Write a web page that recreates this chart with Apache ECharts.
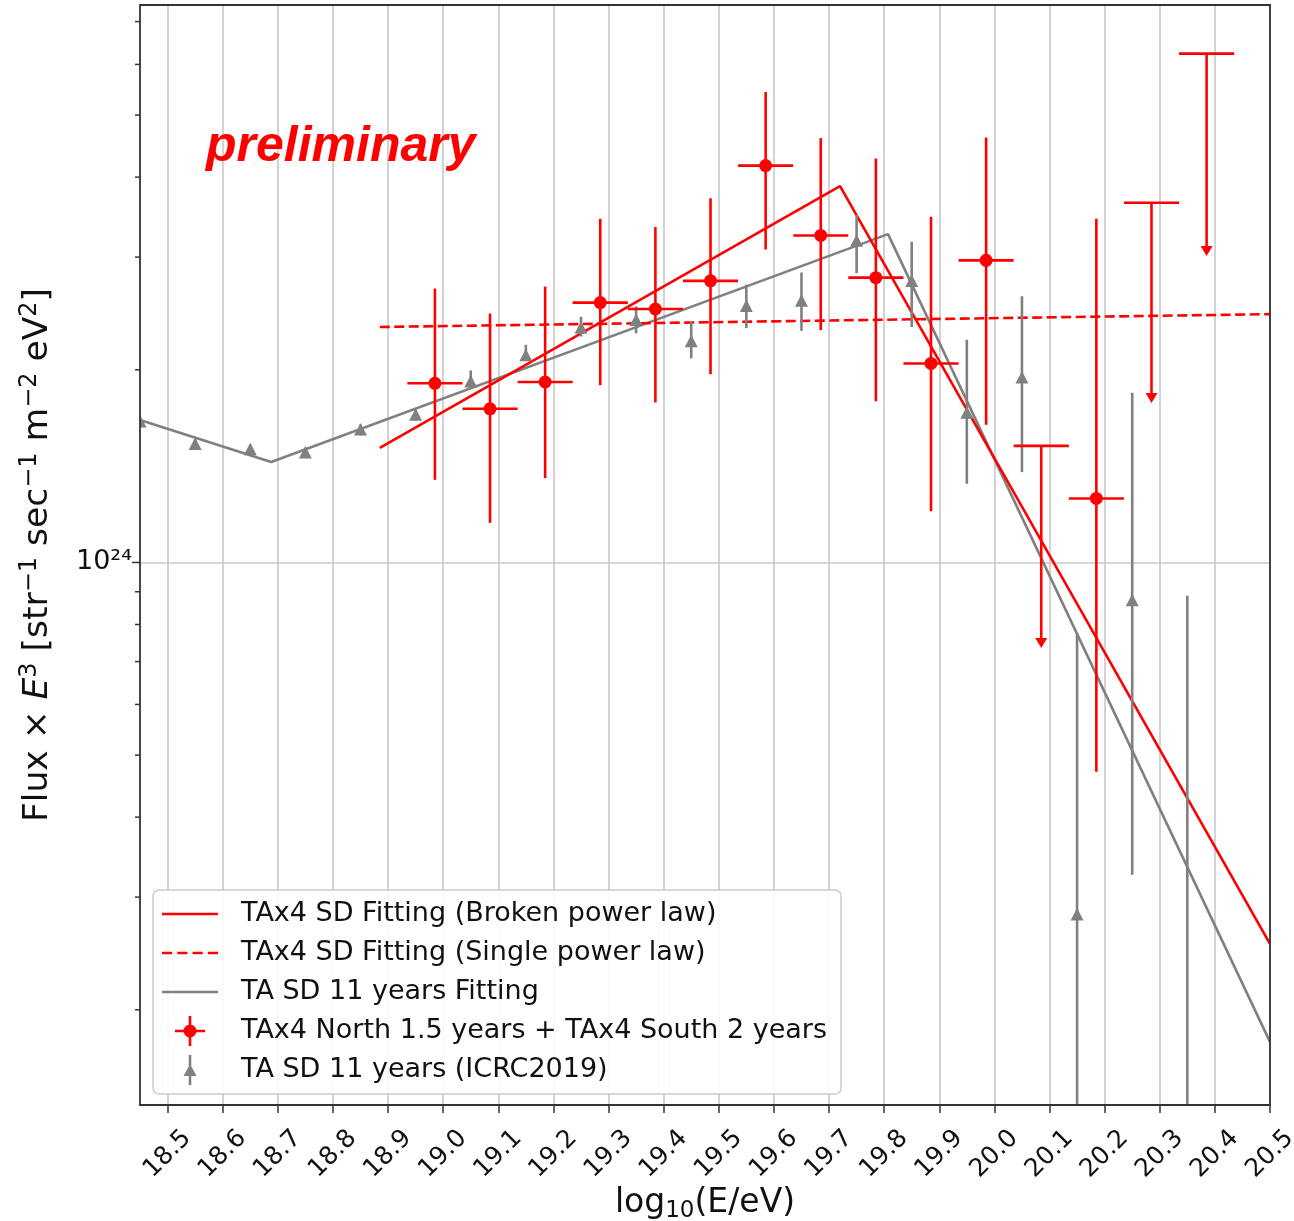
<!DOCTYPE html>
<html>
<head>
<meta charset="utf-8">
<script src="https://cdn.jsdelivr.net/npm/echarts@6/dist/echarts.min.js"></script>
<style>
  html, body { margin: 0; padding: 0; background: #ffffff; }
  #chart { width: 1294px; height: 1221px; }
</style>
</head>
<body>
<div id="chart"></div>
<script>
// ---- axes -----------------------------------------------------------------
const X_MIN = 18.45, X_MAX = 20.5;          // log10(E/eV)
const Y_MIN = 1.42e23, Y_MAX = 7.43e24;     // Flux x E^3
const xTickValues = [18.5, 18.6, 18.7, 18.8, 18.9, 19.0, 19.1, 19.2, 19.3, 19.4, 19.5,
                     19.6, 19.7, 19.8, 19.9, 20.0, 20.1, 20.2, 20.3, 20.4, 20.5];
const yMajorTicks = [1e24];
const yMajorLabels = ['10\u00b2\u2074'];
const yMinorTicks = [2e23, 3e23, 4e23, 5e23, 6e23, 7e23, 8e23, 9e23,
                     2e24, 3e24, 4e24, 5e24, 6e24, 7e24];

// ---- TAx4 SD (North 1.5 yr + South 2 yr) ----------------------------------
const tax4X  = [18.985, 19.085, 19.185, 19.285, 19.385, 19.485, 19.585, 19.685, 19.785, 19.885, 19.985, 20.185];
const tax4Y  = [1.905e24, 1.738e24, 1.914e24, 2.547e24, 2.489e24, 2.754e24, 4.169e24, 3.243e24, 2.786e24, 2.046e24, 2.965e24, 1.259e24];
const tax4Lo = [1.346e24, 1.153e24, 1.355e24, 1.892e24, 1.778e24, 1.968e24, 3.083e24, 2.307e24, 1.786e24, 1.202e24, 1.641e24, 4.71e23];
const tax4Hi = [2.679e24, 2.449e24, 2.698e24, 3.443e24, 3.342e24, 3.707e24, 5.433e24, 4.603e24, 4.276e24, 3.467e24, 4.613e24, 3.443e24];
const tax4XErr = 0.05;
// upper limits: limit value and end of the downward arrow
const tax4LimX     = [20.085, 20.285, 20.385];
const tax4LimY     = [1.521e24, 3.648e24, 6.237e24];
const tax4LimArrow = [7.35e23, 1.774e24, 3.013e24];

// ---- TA SD 11 years (ICRC2019) ----------------------------------------------
const tasdX  = [18.45, 18.55, 18.65, 18.75, 18.85, 18.95, 19.05, 19.15, 19.25, 19.35,
                19.45, 19.55, 19.65, 19.75, 19.85, 19.95, 20.05, 20.15, 20.25, 20.35];
const tasdY  = [1.658e24, 1.528e24, 1.500e24, 1.483e24, 1.611e24, 1.698e24, 1.914e24, 2.104e24, 2.323e24, 2.388e24,
                2.213e24, 2.512e24, 2.559e24, 3.177e24, 2.748e24, 1.710e24, 1.941e24, 2.812e23, 8.71e23, 1.2e23];
const tasdLo = [1.630e24, 1.500e24, 1.472e24, 1.455e24, 1.580e24, 1.665e24, 1.870e24, 2.070e24, 2.254e24, 2.280e24,
                2.084e24, 2.323e24, 2.301e24, 2.831e24, 2.333e24, 1.327e24, 1.384e24, 1e22, 3.25e23, 1e22];
const tasdHi = [1.686e24, 1.556e24, 1.528e24, 1.511e24, 1.642e24, 1.731e24, 1.995e24, 2.188e24, 2.420e24, 2.512e24,
                2.377e24, 2.716e24, 2.838e24, 3.491e24, 3.170e24, 2.228e24, 2.606e24, 7.76e23, 1.841e24, 8.87e23];

// ---- fitted spectra ---------------------------------------------------------
const tax4BrokenX  = [18.885, 19.72, 20.5];
const tax4BrokenY  = [1.510e24, 3.873e24, 2.535e23];
const tax4SingleX  = [18.885, 20.5];
const tax4SingleY  = [2.333e24, 2.443e24];
const tasdFitX     = [18.45, 18.688, 19.807, 20.5];
const tasdFitY     = [1.670e24, 1.435e24, 3.258e24, 1.782e23];

const NAME_BROKEN = 'TAx4 SD Fitting (Broken power law)';
const NAME_SINGLE = 'TAx4 SD Fitting (Single power law)';
const NAME_TASDFIT = 'TA SD 11 years Fitting';
const NAME_TAX4 = 'TAx4 North 1.5 years + TAx4 South 2 years';
const NAME_TASD = 'TA SD 11 years (ICRC2019)';

const RED = '#ff0000';
const GRAY = '#808080';
const FONT = 'DejaVu Sans';
const INK = '#111111';

const zip = (xs, ys) => xs.map((x, i) => [x, ys[i]]);

const tax4Rows = tax4X.map((x, i) => [x, tax4Y[i], tax4Lo[i], tax4Hi[i], 0])
  .concat(tax4LimX.map((x, i) => [x, tax4LimY[i], tax4LimArrow[i], tax4LimY[i], 1]));
const tasdRows = tasdX.map((x, i) => [x, tasdY[i], tasdLo[i], tasdHi[i]]);
const tickRows = yMajorTicks.map(v => [X_MIN, v, 1]).concat(yMinorTicks.map(v => [X_MIN, v, 0]));

function renderTax4(params, api) {
  const x = api.value(0), y = api.value(1), lo = api.value(2), hi = api.value(3), isLimit = api.value(4);
  const c = api.coord([x, y]);
  const l = api.coord([x - tax4XErr, y]);
  const r = api.coord([x + tax4XErr, y]);
  const pLo = api.coord([x, lo]);
  const pHi = api.coord([x, hi]);
  const stroke = { stroke: RED, lineWidth: 2.6 };
  const children = [
    { type: 'line', shape: { x1: l[0], y1: l[1], x2: r[0], y2: r[1] }, style: stroke }
  ];
  if (isLimit) {
    children.push({ type: 'line', shape: { x1: c[0], y1: c[1], x2: pLo[0], y2: pLo[1] - 8 }, style: stroke });
    children.push({ type: 'polygon', shape: { points: [[pLo[0] - 6, pLo[1] - 10], [pLo[0] + 6, pLo[1] - 10], [pLo[0], pLo[1]]] },
                    style: { fill: RED } });
  } else {
    children.push({ type: 'line', shape: { x1: pHi[0], y1: pHi[1], x2: pLo[0], y2: pLo[1] }, style: stroke });
    children.push({ type: 'circle', shape: { cx: c[0], cy: c[1], r: 6.5 }, style: { fill: RED } });
  }
  return { type: 'group', children };
}

function renderTasd(params, api) {
  const x = api.value(0), y = api.value(1), lo = api.value(2), hi = api.value(3);
  const c = api.coord([x, y]);
  const pLo = api.coord([x, lo]);
  const pHi = api.coord([x, hi]);
  return {
    type: 'group',
    children: [
      { type: 'line', shape: { x1: pHi[0], y1: pHi[1], x2: pLo[0], y2: pLo[1] }, style: { stroke: GRAY, lineWidth: 2.6 } },
      { type: 'polygon', shape: { points: [[c[0], c[1] - 7], [c[0] + 6.5, c[1] + 5.5], [c[0] - 6.5, c[1] + 5.5]] },
        style: { fill: GRAY } }
    ]
  };
}

// left-axis ticks of the log scale (decades and 2..9 subdivisions)
function renderYTick(params, api) {
  const p = api.coord([api.value(0), api.value(1)]);
  const len = api.value(2) ? 8 : 5;
  return { type: 'line', shape: { x1: p[0] - len, y1: p[1], x2: p[0], y2: p[1] },
           style: { stroke: '#333333', lineWidth: 1.5 } };
}

const chart = echarts.init(document.getElementById('chart'), null, { renderer: 'canvas' });

chart.setOption({
  animation: false,
  backgroundColor: '#ffffff',
  textStyle: { fontFamily: FONT },
  grid: {
    left: 140, right: 24, top: 5, bottom: 116, z: 10,
    show: true, borderColor: '#333333', borderWidth: 1.8, backgroundColor: 'transparent',
    outerBoundsMode: 'none'
  },
  xAxis: {
    type: 'value', min: X_MIN, max: X_MAX, splitNumber: 20,
    axisLine: { show: false },
    axisTick: { show: true, inside: false, length: 8, customValues: xTickValues,
                lineStyle: { color: '#333333', width: 1.5 } },
    axisLabel: {
      customValues: xTickValues,
      formatter: v => v.toFixed(1),
      rotate: 45, align: 'center', verticalAlign: 'middle', margin: 49,
      fontSize: 25, fontFamily: FONT, color: INK
    },
    splitLine: { show: true, lineStyle: { color: '#c8c8c8', width: 1.6 } },
    name: 'log{sub|10}(E/eV)',
    nameLocation: 'middle', nameGap: 78, nameMoveOverlap: false,
    nameTextStyle: {
      fontSize: 33, fontFamily: FONT, color: INK, lineHeight: 40,
      rich: { sub: { fontSize: 23, fontFamily: FONT, color: INK, verticalAlign: 'bottom', lineHeight: 23 } }
    }
  },
  yAxis: {
    type: 'log', logBase: 10, min: Y_MIN, max: Y_MAX,
    axisLine: { show: false },
    axisTick: { show: false },
    axisLabel: {
      showMinLabel: false, showMaxLabel: false, margin: 8,
      fontSize: 27, fontFamily: FONT, color: INK,
      formatter: v => {
        const e = Math.log10(v);
        const i = yMajorTicks.findIndex(t => Math.abs(Math.log10(t) - e) < 1e-6);
        return i >= 0 ? yMajorLabels[i] : '';
      }
    },
    splitLine: { show: true, lineStyle: { color: '#c8c8c8', width: 1.6 } },
    name: 'Flux \u00d7 {it|E}{sup|3} [str{sup|\u22121} sec{sup|\u22121} m{sup|\u22122} eV{sup|2}]',
    nameLocation: 'middle', nameGap: 82, nameRotate: 90, nameMoveOverlap: false,
    nameTextStyle: {
      fontSize: 34.5, fontFamily: FONT, color: INK, lineHeight: 40,
      rich: {
        it: { fontSize: 34.5, fontFamily: FONT, fontStyle: 'italic', color: INK, lineHeight: 40 },
        sup: { fontSize: 24, fontFamily: FONT, color: INK, verticalAlign: 'top', lineHeight: 24 }
      }
    }
  },
  legend: {
    left: 153, top: 890, orient: 'vertical',
    padding: [9, 14, 9, 9],
    itemWidth: 56, itemHeight: 30, itemGap: 9, itemTextGap: 22,
    backgroundColor: 'rgba(255,255,255,0.85)',
    borderColor: '#cccccc', borderWidth: 1.5, borderRadius: 6,
    selectedMode: false,
    textStyle: { fontSize: 27, fontFamily: FONT, color: INK, lineHeight: 30, padding: [0, 0, 0, 18] },
    data: [
      { name: NAME_BROKEN, icon: 'path://M0,0 h56 v2.6 h-56 Z' },
      { name: NAME_SINGLE, icon: 'path://M0,0 h10 v2.6 h-10 Z M15,0 h10 v2.6 h-10 Z M30,0 h10 v2.6 h-10 Z M45,0 h10 v2.6 h-10 Z' },
      { name: NAME_TASDFIT, icon: 'path://M0,0 h56 v2.6 h-56 Z' },
      { name: NAME_TAX4,
        icon: 'path://M0,13.7 h30 v2.6 h-30 Z M13.7,0 h2.6 v30 h-2.6 Z M8.5,15 a6.5,6.5 0 1,1 13,0 a6.5,6.5 0 1,1 -13,0 Z' },
      { name: NAME_TASD,
        icon: 'path://M5.7,0 h2.6 v30 h-2.6 Z M7,9 L13.5,21 L0.5,21 Z' }
    ]
  },
  graphic: [{
    type: 'text',
    style: {
      text: 'preliminary', x: 206, y: 147,
      font: 'italic bold 50px "Liberation Sans"',
      fill: RED, align: 'left', verticalAlign: 'middle'
    },
    z: 10
  }],
  series: [
    { name: NAME_TASDFIT, type: 'line', data: zip(tasdFitX, tasdFitY), symbol: 'none', clip: true, z: 2,
      lineStyle: { color: GRAY, width: 2.6 }, itemStyle: { color: GRAY } },
    { name: NAME_SINGLE, type: 'line', data: zip(tax4SingleX, tax4SingleY), symbol: 'none', clip: true, z: 2,
      lineStyle: { color: RED, width: 2.6, type: [10, 4.5] }, itemStyle: { color: RED } },
    { name: NAME_BROKEN, type: 'line', data: zip(tax4BrokenX, tax4BrokenY), symbol: 'none', clip: true, z: 2,
      lineStyle: { color: RED, width: 2.6 }, itemStyle: { color: RED } },
    { name: NAME_TASD, type: 'custom', data: tasdRows, encode: { x: 0, y: 1 }, renderItem: renderTasd,
      clip: true, z: 3, itemStyle: { color: GRAY } },
    { name: NAME_TAX4, type: 'custom', data: tax4Rows, encode: { x: 0, y: 1 }, renderItem: renderTax4,
      clip: true, z: 4, itemStyle: { color: RED } },
    { name: 'yticks', type: 'custom', data: tickRows, encode: { x: 0, y: 1 }, renderItem: renderYTick,
      clip: false, silent: true, z: 5 }
  ]
});
</script>
</body>
</html>
